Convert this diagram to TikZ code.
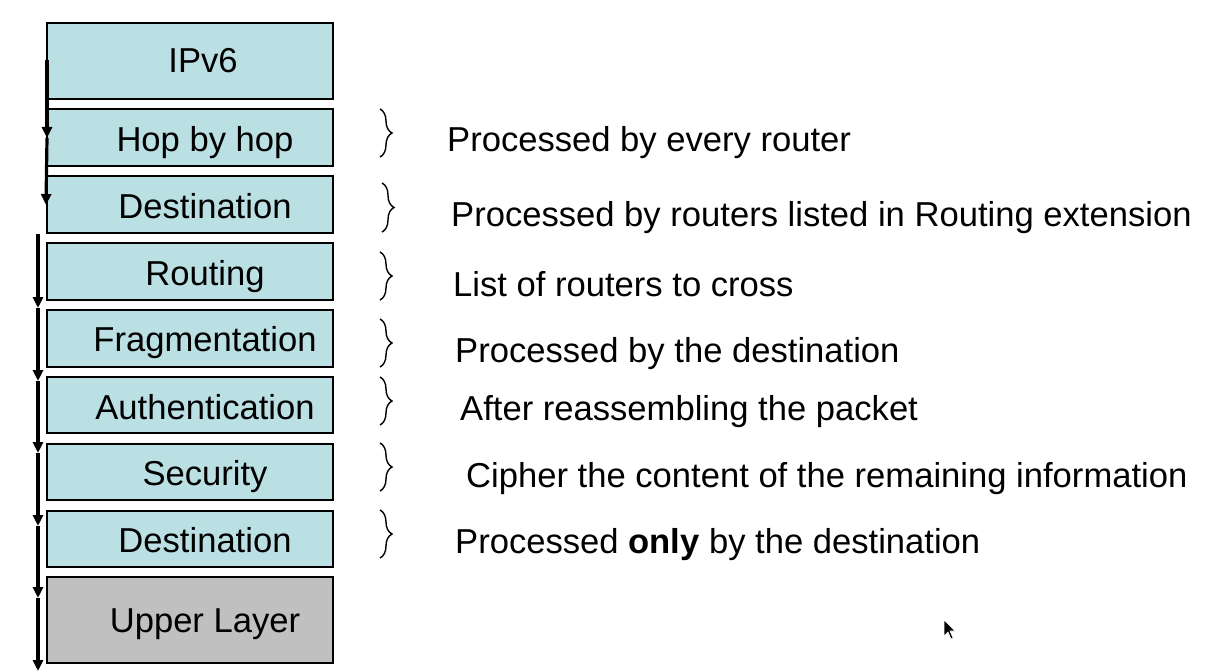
\documentclass[tikz,border=0pt]{standalone}
\usepackage{fontspec}
\setmainfont{Liberation Sans}
\usetikzlibrary{arrows.meta,decorations.pathreplacing}
\definecolor{boxblue}{RGB}{187,224,227}
\definecolor{boxgray}{RGB}{192,192,192}
\tikzset{
  layer/.style={draw=black,line width=1.3bp,fill=boxblue,rectangle,inner sep=0pt,minimum width=286bp},
  lbl/.style={font=\fontsize{34.6bp}{40bp}\selectfont,inner sep=0pt,anchor=base},
  desc/.style={font=\fontsize{34.6bp}{40bp}\selectfont,inner sep=0pt,anchor=base west},
  flow/.style={line width=3.2bp,-{Triangle[length=11bp,width=10bp]}},
  brc/.style={line width=1.4bp,decorate,decoration={brace,amplitude=12bp,aspect=0.5}}
}
\begin{document}
\begin{tikzpicture}[x=1bp,y=-1bp]
\useasboundingbox (0,0) rectangle (1213,672);
% boxes
\node[layer,minimum height=76bp] (b0) at (190,61) {};
\node[layer,minimum height=57bp] (b1) at (190,137.5) {};
\node[layer,minimum height=57bp] (b2) at (190,204.5) {};
\node[layer,minimum height=57bp] (b3) at (190,271.5) {};
\node[layer,minimum height=57bp] (b4) at (190,338.5) {};
\node[layer,minimum height=56bp] (b5) at (190,405) {};
\node[layer,minimum height=56bp] (b6) at (190,472) {};
\node[layer,minimum height=56bp] (b7) at (190,539) {};
\node[layer,fill=boxgray,minimum height=86bp] (b8) at (190,620) {};
% box labels
\node[lbl] (l0) at (203,72.5) {IPv6};
\node[lbl] (l1) at (205,151.7) {Hop by hop};
\node[lbl] (l2) at (205,218.3) {Destination};
\node[lbl] (l3) at (205,285) {Routing};
\node[lbl] (l4) at (205,351.7) {Fragmentation};
\node[lbl] (l5) at (205,419.3) {Authentication};
\node[lbl] (l6) at (205,485.7) {Security};
\node[lbl] (l7) at (205,552.7) {Destination};
\node[lbl] (l8) at (205,632.7) {Upper Layer};
% arrows
\coordinate (a0) at (47,60);
\coordinate (a1) at (47,138);
\coordinate (a2) at (46,205);
\draw[flow] (a0) -- (a1);
\draw[flow] (a1) -- (a2);
\coordinate (c0) at (38,234);
\coordinate (c1) at (38,308);
\coordinate (c2) at (38,381);
\coordinate (c3) at (38,453);
\coordinate (c4) at (38,526);
\coordinate (c5) at (38,598);
\coordinate (c6) at (38,671);
\draw[flow] (c0) -- (c1);
\draw[flow] (c1) -- (c2);
\draw[flow] (c2) -- (c3);
\draw[flow] (c3) -- (c4);
\draw[flow] (c4) -- (c5);
\draw[flow] (c5) -- (c6);
% braces
\draw[brc] (380,109) -- (380,157);
\draw[brc] (382,183) -- (382,232);
\draw[brc] (380,252) -- (380,300);
\draw[brc] (380,319) -- (380,367);
\draw[brc] (380,377) -- (380,425);
\draw[brc] (380,443) -- (380,491);
\draw[brc] (380,510) -- (380,558);
% descriptions
\node[desc] (d1) at (447,152) {Processed by every router};
\node[desc] (d2) at (451,227) {Processed by routers listed in Routing extension};
\node[desc] (d3) at (453,296) {List of routers to cross};
\node[desc] (d4) at (455,362) {Processed by the destination};
\node[desc] (d5) at (460,420) {After reassembling the packet};
\node[desc] (d6) at (466,487) {Cipher the content of the remaining information};
\node[desc] (d7) at (455,553) {Processed \textbf{only} by the destination};
% cursor
\filldraw[fill=black,draw=white,line width=0.6bp] (944,620) -- (944,636) -- (948,632) -- (951,639) -- (953,638) -- (950,631) -- (955,631) -- cycle;
\end{tikzpicture}
\end{document}
